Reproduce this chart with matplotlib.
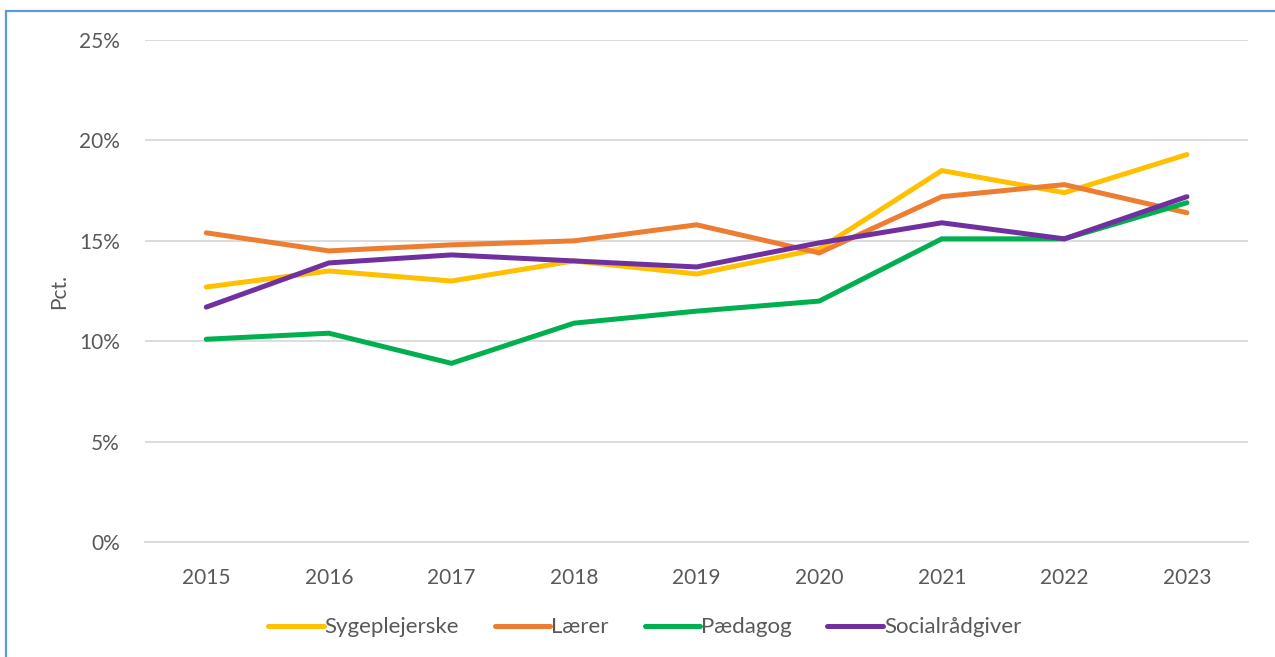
import matplotlib

matplotlib.use("Agg")

import matplotlib.pyplot as plt
from matplotlib.patches import Rectangle
from matplotlib.ticker import PercentFormatter

years = [2015, 2016, 2017, 2018, 2019, 2020, 2021, 2022, 2023]
sygeplejerske = [12.7, 13.5, 13.0, 14.0, 13.35, 14.6, 18.5, 17.4, 19.3]
laerer = [15.4, 14.5, 14.8, 15.0, 15.8, 14.4, 17.2, 17.8, 16.4]
paedagog = [10.1, 10.4, 8.9, 10.9, 11.5, 12.0, 15.1, 15.1, 16.9]
socialraadgiver = [11.7, 13.9, 14.3, 14.0, 13.7, 14.9, 15.9, 15.1, 17.2]

series = [
    ("Sygeplejerske", sygeplejerske, "#FFC000"),
    ("Lærer", laerer, "#ED7D31"),
    ("Pædagog", paedagog, "#00B050"),
    ("Socialrådgiver", socialraadgiver, "#7030A0"),
]

text_color = "#595959"
plt.rcParams["font.family"] = ["Lato", "DejaVu Sans"]

fig = plt.figure(figsize=(12.75, 6.57), dpi=100)
ax = fig.add_axes([0.1137, 0.175, 0.979 - 0.1137, 0.939 - 0.175])

# chart frame
fig.patches.append(Rectangle((6 / 1275, -0.05), 1.1, 1 - 11 / 657 + 0.05,
                             transform=fig.transFigure, fill=False,
                             edgecolor="#5B9BD5", linewidth=1.6))

for name, values, color in series:
    ax.plot(years, values, color=color, linewidth=3.6, label=name,
            solid_capstyle="round", solid_joinstyle="miter")

ax.set_xlim(2014.5, 2023.5)
ax.set_ylim(0, 25)
ax.set_xticks(years)
ax.set_yticks([0, 5, 10, 15, 20, 25])
ax.yaxis.set_major_formatter(PercentFormatter(decimals=0))
ax.grid(True, axis="y", color="#D9D9D9", linewidth=1.3)
ax.set_axisbelow(True)
for side in ["top", "right", "left"]:
    ax.spines[side].set_visible(False)
ax.spines["bottom"].set_color("#D9D9D9")
ax.spines["bottom"].set_linewidth(1.3)
ax.tick_params(length=0, labelsize=15, colors=text_color)
ax.tick_params(axis="x", pad=19)
ax.tick_params(axis="y", pad=18)
ax.set_ylabel("Pct.", fontsize=15, color=text_color, labelpad=7)

ax.legend(loc="center", bbox_to_anchor=(0.453, -0.17), ncol=4, frameon=False,
          fontsize=16, labelcolor=text_color, handlelength=2.5,
          handletextpad=0.05, columnspacing=1.6)

fig.savefig("out.png", dpi=100)
